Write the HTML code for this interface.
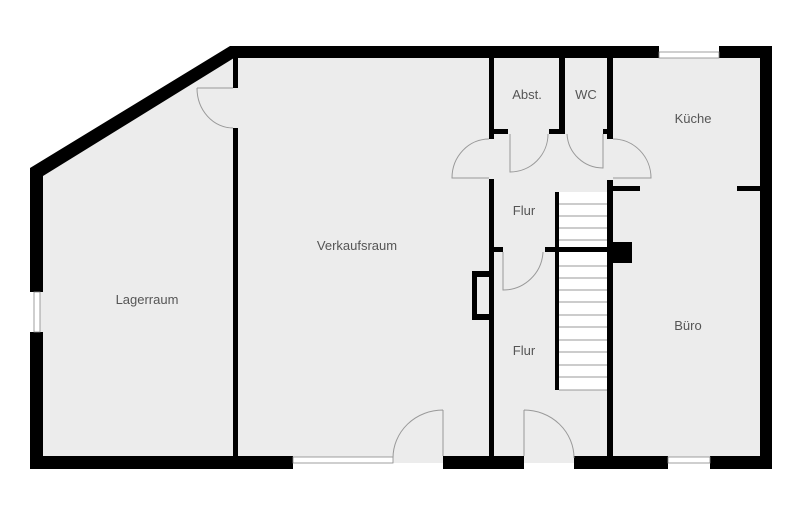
<!DOCTYPE html>
<html><head><meta charset="utf-8"><style>
html,body{margin:0;padding:0;background:#fff;}
svg{display:block}
text{font-family:"Liberation Sans",sans-serif;font-size:13px;fill:#555;text-anchor:middle}
</style></head><body>
<svg width="800" height="521" viewBox="0 0 800 521" xmlns="http://www.w3.org/2000/svg">
<polygon points="37,170 234,52 766,52 766,463 37,463" fill="#ececec"/>
<rect x="559" y="192" width="50" height="198" fill="#fff"/>
<g stroke="#999" stroke-width="1">
<line x1="559" y1="204" x2="609" y2="204"/><line x1="559" y1="216" x2="609" y2="216"/>
<line x1="559" y1="228" x2="609" y2="228"/><line x1="559" y1="240" x2="609" y2="240"/>
<line x1="559" y1="266" x2="609" y2="266"/><line x1="559" y1="278" x2="609" y2="278"/>
<line x1="559" y1="290" x2="609" y2="290"/><line x1="559" y1="302" x2="609" y2="302"/>
<line x1="559" y1="315" x2="609" y2="315"/><line x1="559" y1="327" x2="609" y2="327"/>
<line x1="559" y1="340" x2="609" y2="340"/><line x1="559" y1="352" x2="609" y2="352"/>
<line x1="559" y1="365" x2="609" y2="365"/><line x1="559" y1="377" x2="609" y2="377"/>
<line x1="559" y1="390" x2="609" y2="390"/>
</g>
<g fill="#000">
<polygon points="30,168 230,46 238,46 238,58 234,58 43,176 43,170"/>
<rect x="30" y="168" width="13" height="124"/>
<rect x="30" y="332" width="13" height="137"/>
<rect x="230" y="46" width="429" height="12"/>
<rect x="719" y="46" width="53" height="12"/>
<rect x="760" y="46" width="12" height="423"/>
<rect x="30" y="456" width="263" height="13"/>
<rect x="443" y="456" width="81" height="13"/>
<rect x="574" y="456" width="94" height="13"/>
<rect x="710" y="456" width="62" height="13"/>
<rect x="233" y="46" width="5" height="42"/>
<rect x="233" y="128" width="5" height="330"/>
<rect x="489" y="52" width="5" height="87"/>
<rect x="489" y="129" width="19" height="5"/>
<rect x="559" y="52" width="6" height="82"/>
<rect x="549" y="129" width="16" height="5"/>
<rect x="607" y="52" width="6" height="87"/>
<rect x="603" y="129" width="10" height="5"/>
<rect x="489" y="179" width="5" height="279"/>
<rect x="607" y="180" width="6" height="278"/>
<rect x="613" y="186" width="27" height="5"/>
<rect x="737" y="186" width="25" height="5"/>
<rect x="555" y="192" width="4" height="198"/>
<rect x="545" y="247" width="65" height="5"/>
<rect x="494" y="247" width="9" height="5"/>
<rect x="612" y="242" width="20" height="21"/>
<rect x="472" y="271" width="18" height="49"/>
</g>
<rect x="477" y="277" width="12" height="37" fill="#ececec"/>
<g fill="#fff" stroke="#888" stroke-width="0.8">
<rect x="659" y="52" width="60" height="6"/>
<rect x="34" y="292" width="6" height="40"/>
<rect x="293" y="457" width="100" height="6"/>
<rect x="668" y="457" width="42" height="6"/>
</g>
<g fill="none" stroke="#999" stroke-width="1">
<path d="M197,88 H233 M197,88 A36,40 0 0 0 233,128"/>
<path d="M489,178 H452 A37,39 0 0 1 489,139"/>
<path d="M510,134 V172 A38,38 0 0 0 548,134"/>
<path d="M603,134 V168 A36,36 0 0 1 567,134"/>
<path d="M613,178 H651 A38,39 0 0 0 613,139"/>
<path d="M503,252 V290 A40,40 0 0 0 543,252"/>
<path d="M443,410 V456 M443,410 A50,48 0 0 0 393,458"/>
<path d="M524,410 V456 M524,410 A50,48 0 0 1 574,458"/>
</g>
<text x="147" y="304">Lagerraum</text>
<text x="357" y="250">Verkaufsraum</text>
<text x="527" y="99">Abst.</text>
<text x="586" y="99">WC</text>
<text x="693" y="123">Küche</text>
<text x="524" y="215">Flur</text>
<text x="524" y="355">Flur</text>
<text x="688" y="330">Büro</text>
</svg>
</body></html>
